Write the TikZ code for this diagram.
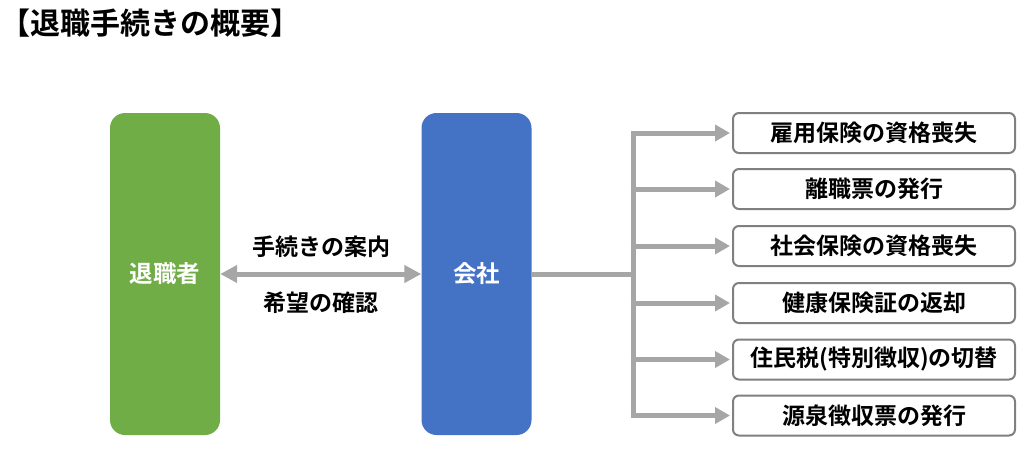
\documentclass[tikz,border=0pt]{standalone}
\usepackage{fontspec}
\setmainfont{Noto Sans CJK JP}[BoldFont=* Bold]
\usetikzlibrary{arrows.meta}
\definecolor{cgreen}{HTML}{70AD47}
\definecolor{cblue}{HTML}{4472C4}
\definecolor{carrow}{HTML}{A6A6A6}
\definecolor{cborder}{HTML}{808080}
\begin{document}
\begin{tikzpicture}[x=1pt,y=-1pt,
  bigbox/.style={rounded corners=15pt, minimum width=110pt, minimum height=322pt, inner sep=0pt, text=white, font=\fontsize{23.5}{26}\selectfont\bfseries},
  taskbox/.style={draw=cborder, line width=2pt, fill=white, rounded corners=6pt, minimum width=282pt, minimum height=40pt, inner sep=0pt, font=\fontsize{23}{26}\selectfont\bfseries},
  flow/.style={draw=carrow, line width=5pt},
  tip/.style={-{Triangle[length=15pt,width=16pt]}},
  lbl/.style={font=\fontsize{23}{26}\selectfont\bfseries, inner sep=0pt}]
\useasboundingbox (0,0) rectangle (1024,448);
\node[anchor=west, font=\fontsize{30}{34}\selectfont\bfseries, inner sep=0pt] (title) at (0,23) {【退職手続きの概要】};
\node[bigbox, fill=cgreen] (emp) at (165,274) {退職者};
\node[bigbox, fill=cblue] (co) at (476.5,274) {会社};
\draw[flow, {Triangle[length=17pt,width=17pt]}-{Triangle[length=17pt,width=17pt]}] (emp.east) -- (co.west);
\node[lbl] (l1) at (321,247) {手続きの案内};
\node[lbl] (l2) at (321,303) {希望の確認};
\node[taskbox] (t1) at (874,133) {雇用保険の資格喪失};
\node[taskbox] (t2) at (874,189) {離職票の発行};
\node[taskbox] (t3) at (874,246) {社会保険の資格喪失};
\node[taskbox] (t4) at (874,303) {健康保険証の返却};
\node[taskbox] (t5) at (874,359.5) {住民税(特別徴収)の切替};
\node[taskbox] (t6) at (874,415.5) {源泉徴収票の発行};
\coordinate (j) at (633,274);
\coordinate (jt) at (633,133);
\coordinate (jb) at (633,415.5);
\draw[flow] (co.east) -- (j);
\draw[flow, line cap=butt] ([yshift=2.5pt]jt) -- ([yshift=-2.5pt]jb);
\foreach \t in {t1,t2,t3,t4,t5,t6}{
  \draw[flow, tip] ([xshift=-2.5pt]j |- \t.west) -- ([xshift=-2pt]\t.west);
}
\end{tikzpicture}
\end{document}
